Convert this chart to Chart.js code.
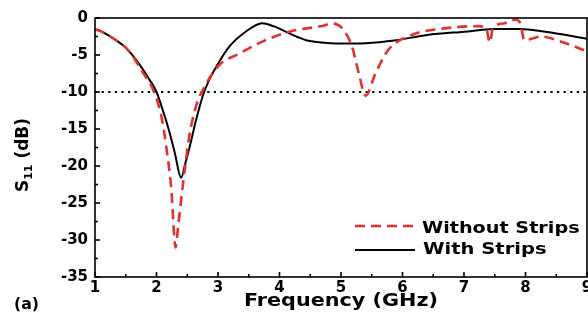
<!DOCTYPE html>
<html><head><meta charset="utf-8">
<script src="https://cdn.jsdelivr.net/npm/chart.js@4"></script>
<style>html,body{margin:0;padding:0;background:#fff;overflow:hidden}</style>
</head><body>
<canvas id="c" width="588" height="323"></canvas>
<script>
// ---- data ----
const freqWithout = [1.0, 1.125, 1.25, 1.375, 1.5, 1.625, 1.75, 1.875, 1.95, 2.08, 2.16, 2.24, 2.31, 2.35, 2.40, 2.47, 2.54, 2.64, 2.78, 3.02, 3.35, 3.72, 4.16, 4.69, 4.86, 5.02, 5.18, 5.29, 5.40, 5.56, 5.77, 6.15, 6.69, 7.23, 7.36, 7.42, 7.47, 7.66, 7.84, 7.92, 7.98, 8.05, 8.26, 8.58, 9.0];
const s11Without  = [-1.5, -1.9, -2.5, -3.2, -4.0, -5.3, -7.0, -8.6, -9.8, -13.3, -17.5, -23.0, -31.0, -28.3, -24.6, -19.8, -15.6, -12.0, -9.3, -6.35, -4.8, -3.2, -1.85, -1.08, -0.75, -1.4, -3.9, -7.5, -10.5, -7.5, -4.3, -2.3, -1.4, -1.1, -1.4, -3.3, -1.4, -0.7, -0.2, -0.8, -3.0, -2.9, -2.5, -3.2, -4.5];
const freqWith = [1.0, 1.125, 1.25, 1.375, 1.5, 1.625, 1.75, 1.875, 2.0, 2.1, 2.2, 2.3, 2.4, 2.47, 2.54, 2.64, 2.75, 2.86, 2.97, 3.18, 3.45, 3.72, 3.9, 4.05, 4.16, 4.3, 4.43, 4.69, 4.96, 5.4, 5.9, 6.4, 7.0, 7.5, 7.9, 8.5, 9.0];
const s11With  = [-1.5, -1.9, -2.5, -3.2, -4.0, -5.2, -6.6, -8.2, -10.0, -12.4, -15.1, -18.3, -21.6, -19.6, -17.4, -13.9, -10.6, -8.3, -6.6, -3.9, -1.85, -0.7, -1.1, -1.65, -2.07, -2.6, -3.0, -3.3, -3.45, -3.4, -3.0, -2.3, -1.85, -1.5, -1.5, -2.1, -2.8];
const thresholdFreq = [1, 9];
const thresholdDb = [-10, -10];
const seriesNames = ['Without Strips', 'With Strips'];
const xTitle = 'Frequency (GHz)';
const yTitleMain = 'S';
const yTitleSub = '11';
const yTitleUnit = ' (dB)';
const panelLabel = '(a)';

const pts = (xs, ys) => xs.map((v, i) => ({x: v, y: ys[i]}));
const RED = '#e4302e';
const FONT = '"DejaVu Sans", sans-serif';

function sText(ctx, s, x, y, font, sx, align) {
  ctx.save();
  ctx.translate(x, y);
  ctx.scale(sx, 1);
  ctx.font = font;
  ctx.textAlign = align || 'left';
  ctx.textBaseline = 'alphabetic';
  ctx.fillStyle = '#000';
  ctx.fillText(s, 0, 0);
  ctx.restore();
}

const decor = {
  id: 'decor',
  afterDraw(chart) {
    const {ctx, chartArea: a, scales: {x, y}} = chart;
    ctx.save();
    ctx.strokeStyle = '#000';
    ctx.lineWidth = 1.6;
    ctx.setLineDash([]);
    ctx.strokeRect(a.left, a.top, a.right - a.left, a.bottom - a.top);
    // inward ticks
    for (let v = x.min; v <= x.max + 1e-9; v += 0.5) {
      const px = x.getPixelForValue(v);
      const major = Math.abs(v - Math.round(v)) < 1e-6;
      ctx.beginPath(); ctx.moveTo(px, a.bottom); ctx.lineTo(px, a.bottom - (major ? 5 : 3)); ctx.stroke();
    }
    for (let v = y.min; v <= y.max + 1e-9; v += 2.5) {
      const py = y.getPixelForValue(v);
      const major = Math.abs(v / 5 - Math.round(v / 5)) < 1e-6;
      ctx.beginPath(); ctx.moveTo(a.left, py); ctx.lineTo(a.left + (major ? 5 : 3), py); ctx.stroke();
    }
    // legend
    ctx.strokeStyle = RED; ctx.lineWidth = 2.6; ctx.setLineDash([10, 6]);
    ctx.beginPath(); ctx.moveTo(355, 226); ctx.lineTo(415, 226); ctx.stroke();
    ctx.strokeStyle = '#000'; ctx.lineWidth = 2; ctx.setLineDash([]);
    ctx.beginPath(); ctx.moveTo(355, 250); ctx.lineTo(415, 250); ctx.stroke();
    sText(ctx, seriesNames[0], 422, 233, 'bold 16px ' + FONT, 1.2);
    sText(ctx, seriesNames[1], 423, 254, 'bold 16px ' + FONT, 1.22);
    // x title
    sText(ctx, xTitle, (a.left + a.right) / 2, 306, 'bold 17px ' + FONT, 1.22, 'center');
    // panel label
    sText(ctx, panelLabel, 14, 309, 'bold 15px ' + FONT, 1.05);
    // y title with subscript
    ctx.save();
    ctx.translate(28, 155);
    ctx.rotate(-Math.PI / 2);
    ctx.fillStyle = '#000';
    ctx.textBaseline = 'alphabetic';
    const fBig = 'bold 17px ' + FONT, fSmall = 'bold 11px ' + FONT;
    ctx.font = fBig; const w1 = ctx.measureText(yTitleMain).width;
    const w3 = ctx.measureText(yTitleUnit).width;
    ctx.font = fSmall; const w2 = ctx.measureText(yTitleSub).width;
    let cx = -(w1 + w2 + w3) / 2;
    ctx.font = fBig; ctx.fillText(yTitleMain, cx, 0); cx += w1;
    ctx.font = fSmall; ctx.fillText(yTitleSub, cx, 4); cx += w2;
    ctx.font = fBig; ctx.fillText(yTitleUnit, cx, 0);
    ctx.restore();
    ctx.restore();
  }
};

new Chart(document.getElementById('c'), {
  type: 'line',
  data: {
    datasets: [
      {label: seriesNames[0], data: pts(freqWithout, s11Without), borderColor: RED, borderWidth: 2.6, borderDash: [10, 6], pointRadius: 0, cubicInterpolationMode: 'monotone', fill: false},
      {label: seriesNames[1], data: pts(freqWith, s11With), borderColor: '#000', borderWidth: 2, pointRadius: 0, cubicInterpolationMode: 'monotone', fill: false},
      {label: 'threshold', data: pts(thresholdFreq, thresholdDb), borderColor: '#000', borderWidth: 2.2, borderDash: [2.2, 4.4], pointRadius: 0, fill: false}
    ]
  },
  options: {
    responsive: false,
    animation: false,
    layout: {padding: {top: 18, right: 1, left: 0, bottom: 0}},
    plugins: {legend: {display: false}, tooltip: {enabled: false}},
    scales: {
      x: {
        type: 'linear', min: 1, max: 9,
        grid: {display: false, drawTicks: false}, border: {display: false},
        ticks: {stepSize: 1, color: '#000', font: {family: FONT, size: 15, weight: 'bold'}, padding: 2, maxRotation: 0, autoSkip: false},
        afterFit(s) { s.height = 46; s.paddingLeft = 0; s.paddingRight = 0; }
      },
      y: {
        type: 'linear', min: -35, max: 0,
        grid: {display: false, drawTicks: false}, border: {display: false},
        ticks: {stepSize: 5, color: '#000', font: {family: FONT, size: 15, weight: 'bold'}, padding: 7},
        afterFit(s) { s.width = 95; s.paddingTop = 0; s.paddingBottom = 0; }
      }
    }
  },
  plugins: [decor]
});
</script>
</body></html>
